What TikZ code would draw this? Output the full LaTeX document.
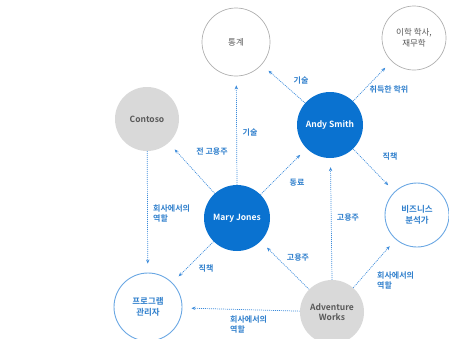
\documentclass[tikz,border=0pt]{standalone}
\usepackage{fontspec}
\setmainfont{Noto Sans CJK KR}[BoldFont={Noto Sans CJK KR Bold}]
\usetikzlibrary{arrows.meta}
\definecolor{dblue}{HTML}{0A72D0}
\definecolor{lblue}{HTML}{6AA7E3}
\definecolor{tblue}{HTML}{2F7FCC}
\definecolor{lnblue}{HTML}{3B8BDB}
\definecolor{gfill}{HTML}{D9D9D9}
\definecolor{gline}{HTML}{B0B0B0}
\definecolor{gtext}{HTML}{595959}
\tikzset{
  ent/.style={circle, minimum size=#1, inner sep=0pt, align=center, font=\fontsize{8.5}{10.5}\selectfont\bfseries},
  person/.style={ent=66pt, fill=dblue, text=white},
  org/.style={ent=64pt, fill=gfill, text=gtext},
  topic/.style={ent=68pt, draw=gline, line width=0.7pt, text=gtext, font=\fontsize{8.5}{10.5}\selectfont},
  role/.style={ent=66pt, draw=lblue, line width=0.9pt, text=tblue},
  rel/.style={draw=lnblue, line width=0.7pt, dash pattern=on 1pt off 1pt, -{Stealth[length=4pt,width=3.4pt]}, shorten >=9pt},
  lbl/.style={text=tblue, font=\fontsize{8}{10}\selectfont\bfseries, inner sep=0pt, align=left}
}
\begin{document}
\begin{tikzpicture}[x=1pt,y=-1pt]
\useasboundingbox (0,0) rectangle (449,338);
\node[topic] (stat) at (236,42) {통계};
\node[topic, minimum size=64pt] (deg) at (414,38) {이학 학사,\\재무학};
\node[org] (contoso) at (147,119) {Contoso};
\node[person] (andy) at (330,125) {Andy Smith};
\node[person] (mary) at (237,218) {Mary Jones};
\node[role, minimum size=64pt] (ba) at (417,215) {비즈니스\\분석가};
\node[role, minimum size=68pt] (pm) at (148,307) {프로그램\\관리자};
\node[org] (aw) at (332,312) {Adventure\\Works};

\draw[rel] (mary) -- (contoso);
\draw[rel] (mary.north) -- (stat);
\draw[rel] (mary) -- (andy);
\draw[rel] (mary) -- (pm);
\draw[rel] (andy) -- (stat);
\draw[rel] (andy) -- (deg);
\draw[rel] (andy) -- (ba);
\draw[rel] (contoso) -- (pm);
\draw[rel] (aw) -- (mary);
\draw[rel] (aw.north) -- (andy);
\draw[rel] (aw) -- (ba);
\draw[rel] (aw) -- (pm);

\node[lbl] (l1) at (212,152) {전 고용주};
\node[lbl] (l2) at (250,132) {기술};
\node[lbl] (l3) at (301,80) {기술};
\node[lbl] (l4) at (389,89) {취득한 학위};
\node[lbl] (l5) at (390,156) {직책};
\node[lbl] (l6) at (297,183) {동료};
\node[lbl] (l7) at (348,218) {고용주};
\node[lbl] (l8) at (298,258) {고용주};
\node[lbl] (l9) at (206,268) {직책};
\node[lbl, anchor=west] (l10) at (153,213) {회사에서의\\역할};
\node[lbl, anchor=west] (l11) at (377,280) {회사에서의\\역할};
\node[lbl, anchor=west] (l12) at (230,324) {회사에서의\\역할};
\end{tikzpicture}
\end{document}
